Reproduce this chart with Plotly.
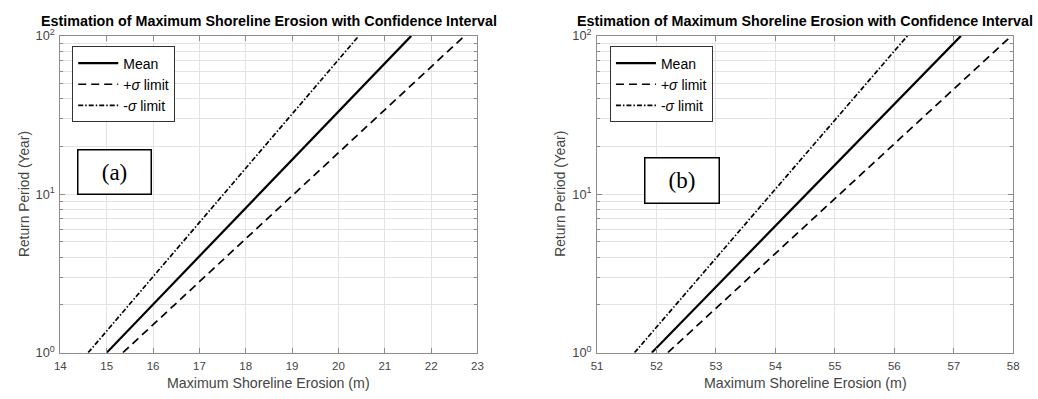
import plotly.graph_objects as go

# Return periods (years) at the ends of each straight line on the log axis
return_period = [1, 100]

# Panel (a): erosion (m) for mean and +/- sigma curves
erosion_a_mean = [15.00, 21.57]
erosion_a_plus = [15.35, 22.72]
erosion_a_minus = [14.60, 20.44]

# Panel (b)
erosion_b_mean = [51.92, 57.12]
erosion_b_plus = [52.19, 57.97]
erosion_b_minus = [51.63, 56.22]

y_tickvals = [1, 10, 100]
y_ticktext = ["10<sup>0</sup>", "10<sup>1</sup>", "10<sup>2</sup>"]
y_minorvals = [2, 3, 4, 5, 6, 7, 8, 9, 20, 30, 40, 50, 60, 70, 80, 90]

title_text = "Estimation of Maximum Shoreline Erosion with Confidence Interval"
x_title = "Maximum Shoreline Erosion (m)"
y_title = "Return Period (Year)"

W, H = 1038, 399
FONT = "Liberation Sans, Arial, sans-serif"
GRID = "#e3e3e3"
FRAME = "#8c8c8c"
XTICKFONT = dict(family=FONT, size=11.5, color="#444444")
YTICKFONT = dict(family=FONT, size=12.8, color="#444444")

# plot-area pixel boxes: (left, right, top, bottom)
boxes = [(55, 477, 28, 358), (598, 1019, 28, 358)]

fig = go.Figure()

panels = [
    (erosion_a_mean, erosion_a_plus, erosion_a_minus, "x", "y", "legend"),
    (erosion_b_mean, erosion_b_plus, erosion_b_minus, "x2", "y2", "legend2"),
]
for mean, plus, minus, xa, ya, lg in panels:
    fig.add_trace(go.Scatter(x=mean, y=return_period, mode="lines", name="Mean",
                             line=dict(color="black", width=2.2), xaxis=xa, yaxis=ya, legend=lg))
    fig.add_trace(go.Scatter(x=plus, y=return_period, mode="lines", name="+<i>σ</i> limit",
                             line=dict(color="black", width=1.7, dash="8px,5px"),
                             xaxis=xa, yaxis=ya, legend=lg))
    fig.add_trace(go.Scatter(x=minus, y=return_period, mode="lines", name="-<i>σ</i> limit",
                             line=dict(color="black", width=1.7, dash="5px,2px,1.5px,2px"),
                             xaxis=xa, yaxis=ya, legend=lg))


def xdom(b):
    return [b[0] / W, b[1] / W]


def ydom(b):
    return [1 - b[3] / H, 1 - b[2] / H]


common_x = dict(showgrid=True, gridcolor=GRID, gridwidth=1, zeroline=False,
                showline=True, linecolor=FRAME, linewidth=1, mirror="allticks",
                ticks="inside", ticklen=5, tickcolor=FRAME, tickfont=XTICKFONT,
                dtick=1, tick0=0, ticklabelstandoff=3)
common_y = dict(type="log", showgrid=True, gridcolor=GRID, gridwidth=1, zeroline=False,
                showline=True, linecolor=FRAME, linewidth=1, mirror="allticks",
                ticks="inside", ticklen=5, tickcolor=FRAME, tickfont=YTICKFONT,
                tickvals=y_tickvals, ticktext=y_ticktext, range=[0, 2],
                ticklabelstandoff=2,
                minor=dict(tickvals=y_minorvals, showgrid=True, gridcolor=GRID,
                           gridwidth=1, ticks="inside", ticklen=3, tickcolor=FRAME))

legend_style = dict(yanchor="top", xanchor="left",
                    bordercolor="#333333", borderwidth=1, bgcolor="white",
                    font=dict(family=FONT, size=14, color="black"),
                    tracegroupgap=0, itemwidth=40)

fig.update_layout(
    width=W, height=H,
    margin=dict(l=0, r=0, t=0, b=0),
    paper_bgcolor="white", plot_bgcolor="white",
    showlegend=True,
    xaxis=dict(domain=xdom(boxes[0]), range=[14, 23], anchor="y", **common_x),
    yaxis=dict(domain=ydom(boxes[0]), anchor="x", **common_y),
    xaxis2=dict(domain=xdom(boxes[1]), range=[51, 58], anchor="y2", **common_x),
    yaxis2=dict(domain=ydom(boxes[1]), anchor="x2", **common_y),
    legend=dict(x=67 / W, y=1 - 39 / H, **legend_style),
    legend2=dict(x=611 / W, y=1 - 39 / H, **legend_style),
)

annotations = []
for b, lab, lbox in zip(boxes, ["(a)", "(b)"], [(72, 148, 146, 193), (645, 722, 155, 203)]):
    cx = (b[0] + b[1]) / 2
    annotations.append(dict(text="<b>" + title_text + "</b>", x=cx / W, y=1 - 12 / H,
                            xref="paper", yref="paper", showarrow=False,
                            xanchor="center", yanchor="middle",
                            font=dict(family=FONT, size=14.3, color="black")))
    annotations.append(dict(text=x_title, x=cx / W, y=1 - 390 / H, xref="paper", yref="paper",
                            showarrow=False, xanchor="center", yanchor="middle",
                            font=dict(family=FONT, size=14.2, color="#444444")))
    annotations.append(dict(text=y_title, x=(b[0] - 37) / W, y=1 - 193 / H, xref="paper",
                            yref="paper", showarrow=False, textangle=-90,
                            xanchor="center", yanchor="middle",
                            font=dict(family=FONT, size=13.8, color="#444444")))
    annotations.append(dict(text=lab, x=(lbox[0] + lbox[1]) / 2 / W,
                            y=1 - (lbox[2] + lbox[3]) / 2 / H, xref="paper", yref="paper",
                            showarrow=False, xanchor="center", yanchor="middle",
                            width=lbox[1] - lbox[0] - 4,
                            height=lbox[3] - lbox[2] - 4, bordercolor="black", borderwidth=1.5,
                            bgcolor="white", borderpad=0,
                            font=dict(family="Liberation Serif, Times New Roman, serif",
                                      size=23, color="black")))
fig.update_layout(annotations=annotations)

fig.write_html("out.html")
